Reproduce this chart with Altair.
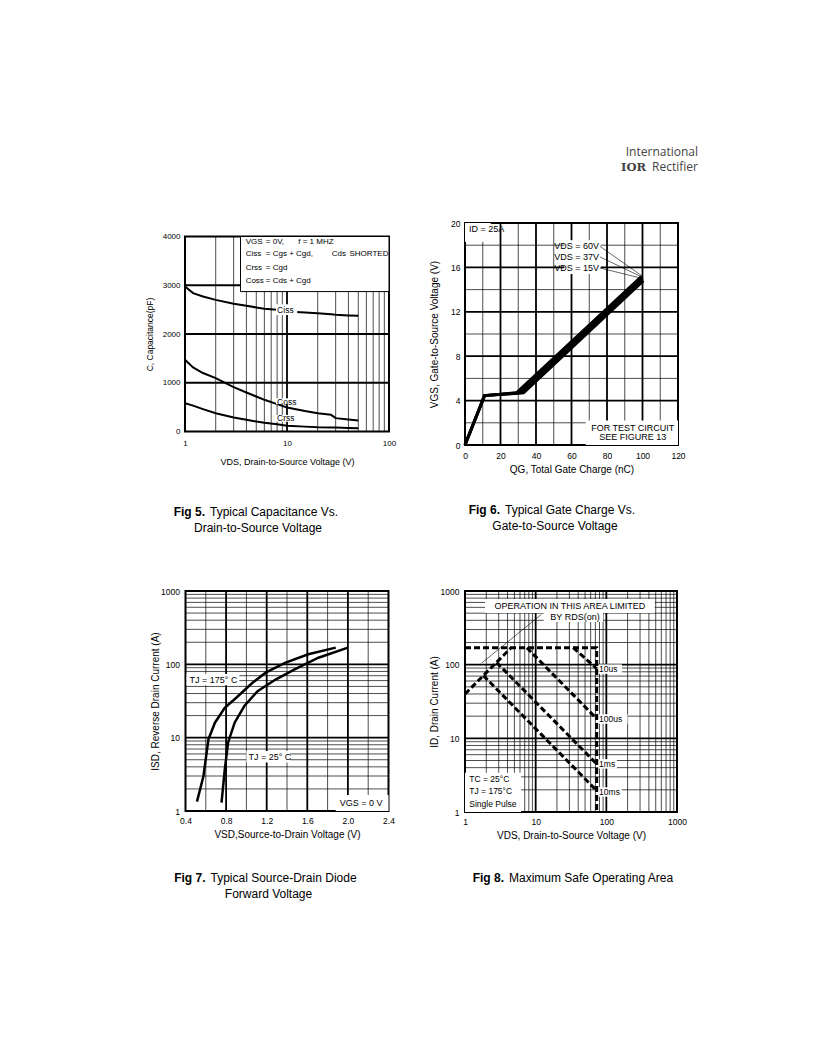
import altair as alt
import pandas as pd

FONT = "Liberation Sans"

# ---------------- Fig 5 : capacitance ----------------
cap_vds = [1, 1.2, 1.5, 2, 3, 4, 5, 6, 8, 10, 15, 20, 27, 30, 40, 50]
ciss_pf = [2974, 2838, 2770, 2700, 2620, 2580, 2545, 2520, 2496, 2462, 2440, 2427, 2405, 2393, 2380, 2373]
coss_pf = [1470, 1313, 1200, 1094, 909, 800, 718, 650, 561, 492, 420, 376, 342, 274, 245, 226]
crss_pf = [581, 530, 460, 376, 287, 240, 205, 180, 150, 116, 100, 89, 84, 82, 74, 68]
cap_x_ticks = [1, 10, 100]
cap_y_ticks = [0, 1000, 2000, 3000, 4000]
cap_x_grid = [2, 3, 4, 5, 6, 7, 8, 9, 10, 20, 30, 40, 50, 60, 70, 80, 90]
cap_x_major = [10]
cap_y_grid = [1000, 2000, 3000]
cap_y_major = [1000, 2000, 3000]

# ---------------- Fig 6 : gate charge ----------------
qg_15v = [0, 11, 29, 99.5]
vgs_15v = [0, 4.45, 4.7, 15.2]
qg_37v = [0, 11, 31, 100]
vgs_37v = [0, 4.45, 4.7, 15.0]
qg_60v = [0, 11, 33, 100.5]
vgs_60v = [0, 4.45, 4.7, 14.8]
gate_x_ticks = [0, 20, 40, 60, 80, 100, 120]
gate_y_ticks = [0, 4, 8, 12, 16, 20]
gate_x_grid = [10, 20, 30, 40, 50, 60, 70, 80, 90, 100, 110]
gate_x_major = [20, 40, 60, 80, 100]
gate_y_grid = [2, 4, 6, 8, 10, 12, 14, 16, 18]
gate_y_major = [4, 8, 12, 16]

# ---------------- Fig 7 : diode forward voltage ----------------
vsd_175 = [0.513, 0.545, 0.577, 0.626, 0.69, 0.787, 0.9, 1.06, 1.19, 1.38, 1.61, 1.88]
isd_175 = [1.34, 2.0, 3.0, 9.5, 16, 25.6, 35, 56, 77, 105, 137, 169]
vsd_25 = [0.755, 0.787, 0.82, 0.884, 0.98, 1.11, 1.287, 1.48, 1.71, 2.0]
isd_25 = [1.3, 3.7, 8.6, 16, 27, 43, 62, 86, 123, 169]
diode_x_ticks = [0.4, 0.8, 1.2, 1.6, 2.0, 2.4]
diode_x_grid = [0.6, 0.8, 1.0, 1.2, 1.4, 1.6, 1.8, 2.0, 2.2]
diode_x_major = [0.8, 1.2, 1.6, 2.0]
log_ticks = [1, 10, 100, 1000]
log_grid = [2, 3, 4, 5, 6, 7, 8, 9, 10, 20, 30, 40, 50, 60, 70, 80, 90,
            100, 200, 300, 400, 500, 600, 700, 800, 900]
log_major = [10, 100]

# ---------------- Fig 8 : SOA ----------------
soa_rds_v = [1, 4.5]
soa_rds_i = [40, 170]
soa_lim_v = [1, 73, 73]
soa_lim_i = [170, 170, 1]
soa_10us_v = [34, 73]
soa_10us_i = [170, 88]
soa_100us_v = [7.5, 73]
soa_100us_i = [170, 18.5]
soa_1ms_v = [2.8, 73]
soa_1ms_i = [107, 4.5]
soa_10ms_v = [1.82, 73]
soa_10ms_i = [71, 1.95]
soa_labels = ["10us", "100us", "1ms", "10ms"]
soa_label_i = [87, 18.3, 4.5, 1.87]
soa_label_end = [166, 200, 141, 166]


# ---------------- helpers ----------------
class Panel:
    def __init__(self, xs, ys, axx, axy):
        self.xs, self.ys, self.axx, self.axy = xs, ys, axx, axy

    def X(self, f):
        return alt.X(f, scale=self.xs, axis=self.axx)

    def Y(self, f):
        return alt.Y(f, scale=self.ys, axis=self.axy)

    def xgrid(self, values, majors):
        df = pd.DataFrame({"v": values, "major": [v in majors for v in values]})
        return alt.Chart(df).mark_rule(color="black").encode(
            x=self.X("v:Q"),
            strokeWidth=alt.condition("datum.major", alt.value(1.8), alt.value(0.7)))

    def ygrid(self, values, majors):
        df = pd.DataFrame({"v": values, "major": [v in majors for v in values]})
        return alt.Chart(df).mark_rule(color="black").encode(
            y=self.Y("v:Q"),
            strokeWidth=alt.condition("datum.major", alt.value(1.8), alt.value(0.7)))

    def boxes(self, x1, x2, y1, y2, stroke=None):
        kw = dict(fill="white")
        if stroke:
            kw.update(stroke=stroke, strokeWidth=1)
        df = pd.DataFrame({"x1": x1, "x2": x2, "y1": y1, "y2": y2})
        return alt.Chart(df).mark_rect(**kw).encode(
            x=self.X("x1:Q"), x2="x2:Q", y=self.Y("y1:Q"), y2="y2:Q")

    def ann(self, texts, xv, yv, size=9, align="left"):
        df = pd.DataFrame({"t": texts, "x": xv, "y": yv})
        return alt.Chart(df).mark_text(align=align, baseline="middle", fontSize=size, font=FONT,
                                       color="black").encode(
            x=self.X("x:Q"), y=self.Y("y:Q"), text="t:N")

    def seg(self, x1, y1, x2, y2, width=0.6):
        df = pd.DataFrame({"x": x1, "y": y1, "x2": x2, "y2": y2})
        return alt.Chart(df).mark_rule(color="black", strokeWidth=width).encode(
            x=self.X("x:Q"), y=self.Y("y:Q"), x2="x2:Q", y2="y2:Q")

    def lines(self, pairs, **mark_kw):
        rows = []
        for name, xs_, ys_ in pairs:
            for i, (a, b) in enumerate(zip(xs_, ys_)):
                rows.append({"s": name, "i": i, "x": a, "y": b})
        return alt.Chart(pd.DataFrame(rows)).mark_line(color="black", **mark_kw).encode(
            x=self.X("x:Q"), y=self.Y("y:Q"), detail="s:N", order="i:Q")


def ptxt(text, x, y, size=12, weight="normal", align="left", font=FONT, color="black", baseline="middle"):
    return alt.Chart(pd.DataFrame({"t": [text]})).mark_text(
        align=align, baseline=baseline, fontSize=size, fontWeight=weight, font=font, color=color
    ).encode(x=alt.value(x), y=alt.value(y), text="t:N")


# ================= Fig 5 =================
W1, H1 = 204, 195
P = Panel(
    alt.Scale(type="log", domain=[1, 100], nice=False),
    alt.Scale(domain=[0, 4000], nice=False, zero=False),
    alt.Axis(values=cap_x_ticks, format="d", title="VDS, Drain-to-Source Voltage (V)",
             labelPadding=8, labelFontSize=8, titleFontSize=9, titleY=30, titleBaseline="middle"),
    alt.Axis(values=cap_y_ticks, format="d", title="C, Capacitance(pF)",
             labelPadding=5, labelFontSize=8, titleFontSize=8.5, titleX=-36, titleBaseline="middle"),
)
legend_y = [3897, 3631, 3364, 3097]
p1 = alt.layer(
    P.xgrid(cap_x_grid, cap_x_major),
    P.ygrid(cap_y_grid, cap_y_major),
    P.boxes([3.5], [100], [2870], [4000], stroke="black"),
    P.lines([("Ciss", cap_vds, ciss_pf), ("Coss", cap_vds, coss_pf), ("Crss", cap_vds, crss_pf)],
            strokeWidth=2),
    P.boxes([7.8, 7.8, 7.8], [12.6, 12.8, 12.4], [2390, 560, 200], [2610, 680, 340]),
    P.ann(["VGS", "Ciss", "Crss", "Coss"], [3.93] * 4, legend_y, size=8),
    P.ann(["= 0V,", "= Cgs + Cgd,", "= Cgd", "= Cds + Cgd"], [6.2] * 4, legend_y, size=8),
    P.ann(["f = 1 MHZ", "Cds"], [12.9, 27.5], legend_y[:2], size=8),
    P.ann(["SHORTED"], [41.0], legend_y[1:2], size=8),
    P.ann(["Ciss", "Coss", "Crss"], [8.0, 8.0, 8.0], [2500, 615, 274], size=8.5),
    ptxt("Fig 5.", 20, 275.5, weight="bold", align="right"),
    ptxt("Typical Capacitance Vs.", 25, 275.5),
    ptxt("Drain-to-Source Voltage", 73, 291.5, align="center"),
).properties(width=W1, height=H1)

# ================= Fig 6 =================
W2, H2 = 213, 222
P = Panel(
    alt.Scale(domain=[0, 120], nice=False, zero=False),
    alt.Scale(domain=[0, 20], nice=False, zero=False),
    alt.Axis(values=gate_x_ticks, title="QG, Total Gate Charge (nC)",
             labelPadding=6.5, labelFontSize=8.5, titleFontSize=10, titleY=24, titleBaseline="middle"),
    alt.Axis(values=gate_y_ticks, title="VGS, Gate-to-Source Voltage (V)",
             labelPadding=5, labelFontSize=8.5, titleFontSize=10, titleX=-31, titleBaseline="middle"),
)
vds_y = [17.9, 16.95, 15.95]
p2 = alt.layer(
    P.xgrid(gate_x_grid, gate_x_major),
    P.ygrid(gate_y_grid, gate_y_major),
    P.boxes([0, 68, 56], [14.5, 120, 76.5], [18.3, 0, 15.4], [20, 2.2, 18.45]),
    P.lines([("15V", qg_15v, vgs_15v), ("37V", qg_37v, vgs_37v), ("60V", qg_60v, vgs_60v)],
            strokeWidth=3),
    P.seg([76, 76, 76], vds_y, [100, 100, 100], [15.2, 15.1, 15.0]),
    P.ann(["VDS = 60V", "VDS = 37V", "VDS = 15V"], [75.5, 75.5, 75.5], vds_y, size=9, align="right"),
    P.ann(["ID = 25A"], [2.3], [19.45], size=9),
    P.ann(["FOR TEST CIRCUIT", "SEE FIGURE 13"], [94.5, 94.5], [1.55, 0.7], size=9, align="center"),
    ptxt("International", 233, -67, size=12, align="right", font="Open Sans", color="#444444",
         baseline="alphabetic"),
    ptxt("Rectifier", 233, -52, size=12, align="right", font="Open Sans", color="#444444",
         baseline="alphabetic"),
    ptxt("IOR", 181, -52, size=11.5, weight="bold", align="right", font="DejaVu Serif", color="#444444",
         baseline="alphabetic"),
    ptxt("Fig 6.", 35, 287, weight="bold", align="right"),
    ptxt("Typical Gate Charge Vs.", 40, 287),
    ptxt("Gate-to-Source Voltage", 90, 303, align="center"),
).properties(width=W2, height=H2)

# ================= Fig 7 =================
W3, H3 = 203, 220
P = Panel(
    alt.Scale(domain=[0.4, 2.4], nice=False, zero=False),
    alt.Scale(type="log", domain=[1, 1000], nice=False),
    alt.Axis(values=diode_x_ticks, format=".1f", title="VSD,Source-to-Drain Voltage (V)",
             labelPadding=5, labelFontSize=8.5, titleFontSize=10, titleY=23, titleBaseline="middle"),
    alt.Axis(values=log_ticks, format="d", title="ISD, Reverse Drain Current (A)",
             labelPadding=6, labelFontSize=8.5, titleFontSize=10, titleX=-30, titleBaseline="middle"),
)
p3 = alt.layer(
    P.xgrid(diode_x_grid, diode_x_major),
    P.ygrid(log_grid, log_major),
    P.boxes([0.41, 1.0, 1.88], [0.93, 1.43, 2.4], [52, 4.6, 1], [74, 6.6, 1.65]),
    P.lines([("175", vsd_175, isd_175), ("25", vsd_25, isd_25)], strokeWidth=2.5),
    P.ann(["TJ = 175° C", "TJ = 25° C"], [0.44, 1.02], [62, 5.5], size=9),
    P.ann(["VGS = 0 V"], [1.92], [1.3], size=9),
    ptxt("Fig 7.", 20, 286.5, weight="bold", align="right"),
    ptxt("Typical Source-Drain Diode", 25, 286.5),
    ptxt("Forward Voltage", 83, 302.5, align="center"),
).properties(width=W3, height=H3)

# ================= Fig 8 =================
W4, H4 = 212, 221
P = Panel(
    alt.Scale(type="log", domain=[1, 1000], nice=False),
    alt.Scale(type="log", domain=[1, 1000], nice=False),
    alt.Axis(values=log_ticks, format="d", title="VDS, Drain-to-Source Voltage (V)",
             labelPadding=5, labelFontSize=8.5, titleFontSize=10, titleY=23, titleBaseline="middle"),
    alt.Axis(values=log_ticks, format="d", title="ID, Drain Current (A)",
             labelPadding=6, labelFontSize=8.5, titleFontSize=10, titleX=-31, titleBaseline="middle"),
)
p4 = alt.layer(
    P.xgrid(log_grid, log_major),
    P.ygrid(log_grid, log_major),
    P.boxes([1.92, 13, 1], [485, 90, 6.2], [502, 380, 1], [776, 502, 3.4]),
    P.boxes([77] * 4, soa_label_end, [v / 1.16 for v in soa_label_i], [v * 1.16 for v in soa_label_i]),
    P.lines([("rds", soa_rds_v, soa_rds_i), ("lim", soa_lim_v, soa_lim_i),
             ("10us", soa_10us_v, soa_10us_i), ("100us", soa_100us_v, soa_100us_i),
             ("1ms", soa_1ms_v, soa_1ms_i), ("10ms", soa_10ms_v, soa_10ms_i)],
            strokeWidth=3, strokeDash=[6, 3]),
    P.seg([1.72], [105], [12], [480]),
    P.ann(["OPERATION IN THIS AREA LIMITED"], [30.5], [624], size=9, align="center"),
    P.ann(["BY RDS(on)"], [36], [443], size=9, align="center"),
    P.ann(soa_labels, [79] * 4, soa_label_i, size=8.5),
    P.ann(["TC = 25°C", "TJ = 175°C", "Single Pulse"], [1.15, 1.15, 1.15], [2.8, 1.93, 1.3], size=8.5),
    ptxt("Fig 8.", 39, 287, weight="bold", align="right"),
    ptxt("Maximum Safe Operating Area", 44, 287),
).properties(width=W4, height=H4)

chart = alt.concat(
    p1, p2, p3, p4, columns=2,
    spacing={"row": 146, "column": 76},
    bounds="flush", align="each", center=True,
    padding={"left": 136, "top": 137, "right": 5, "bottom": 5},
).configure(font=FONT, background="white").configure_view(
    stroke="black", strokeWidth=2
).configure_axis(
    grid=False, ticks=False, domain=False, labelFlush=False, labelOverlap=False,
    labelColor="black", titleColor="black", titleFontWeight="normal",
    labelFont=FONT, titleFont=FONT,
)

chart.save("out.html", embed_options={"renderer": "svg", "actions": False})
